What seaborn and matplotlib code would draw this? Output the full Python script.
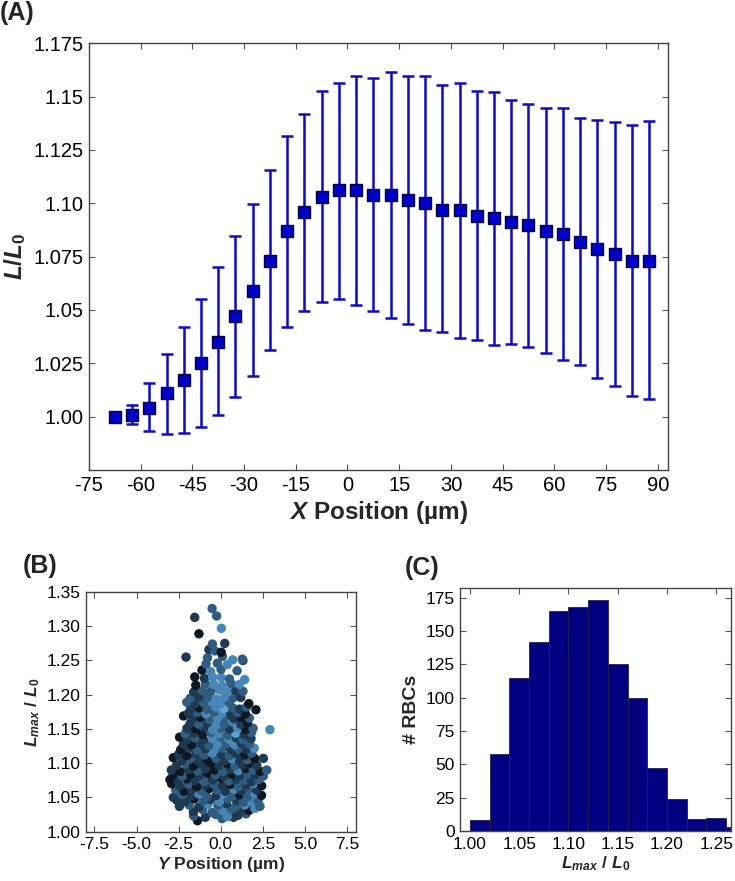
import numpy as np
import pandas as pd
import seaborn as sns
import matplotlib
matplotlib.use('Agg')
import matplotlib.pyplot as plt

# Panel A: mean L/L0 with error bars along the channel
x_pos = [-67.5, -62.5, -57.5, -52.5, -47.5, -42.5, -37.5, -32.5, -27.5, -22.5, -17.5, -12.5, -7.5, -2.5,
         2.5, 7.5, 12.5, 17.5, 22.5, 27.5, 32.5, 37.5, 42.5, 47.5, 52.5, 57.5, 62.5, 67.5, 72.5, 77.5, 82.5, 87.5]
l_mean = [1.000, 1.001, 1.004, 1.011, 1.017, 1.025, 1.035, 1.047, 1.059, 1.073, 1.087, 1.096, 1.103, 1.106,
          1.106, 1.104, 1.104, 1.1015, 1.100, 1.097, 1.097, 1.094, 1.093, 1.091, 1.090, 1.087, 1.0855, 1.082,
          1.0785, 1.076, 1.073, 1.073]
l_upper = [1.000, 1.0053, 1.0158, 1.0295, 1.042, 1.0552, 1.0699, 1.0846, 1.0997, 1.1155, 1.1313, 1.1420, 1.1528,
           1.1563, 1.1597, 1.1589, 1.1617, 1.1597, 1.1594, 1.1556, 1.1564, 1.1527, 1.1519, 1.1483, 1.1466, 1.1444,
           1.1446, 1.1399, 1.1388, 1.1380, 1.1367, 1.1385]
l_lower = [1.000, 0.9964, 0.9933, 0.992, 0.9924, 0.995, 1.0006, 1.0091, 1.0191, 1.0311, 1.0422, 1.0494, 1.0536,
           1.0553, 1.0525, 1.0497, 1.0463, 1.0433, 1.0406, 1.0397, 1.037, 1.0359, 1.0336, 1.0339, 1.0328, 1.0298,
           1.0267, 1.0241, 1.0183, 1.0143, 1.0096, 1.0083]
a_xticks = [-75, -60, -45, -30, -15, 0, 15, 30, 45, 60, 75, 90]
a_yticks = [1.00, 1.025, 1.05, 1.075, 1.10, 1.125, 1.15, 1.175]
a_ylabels = ['1.00', '1.025', '1.05', '1.075', '1.10', '1.125', '1.15', '1.175']

# Panel B: L_max/L0 vs Y position, one dot per cell (shade 0 = darkest)
y_pos = [-1.39, 0.07, 0.75,
         -1.62, -0.92, -0.31, 0.38, 1.02, 1.49,
         -1.63, -1.08, -0.53, 0.12, 0.61, 1.21, 1.66, 2.02,
         -2.46, -1.88, -1.31, -0.77, -0.18, 0.33, 0.87, 1.42, 1.91, 2.32,
         -2.62, -2.12, -1.58, -1.06, -0.61, -0.08, 0.42, 0.93, 1.33, 1.79, 2.21,
         -2.82, -2.31, -1.77, -1.29, -0.83, -0.27, 0.19, 0.71, 1.12, 1.58, 2.03, 2.41,
         -2.68, -2.19, -1.71, -1.18, -0.69, -0.22, 0.27, 0.79, 1.23, 1.68, 2.12,
         -2.92, -2.43, -1.93, -1.42, -0.88, -0.41, 0.08, 0.57, 1.04, 1.51, 1.93, 2.42,
         -3.02, -2.52, -2.03, -1.52, -0.98, -0.49, 0.02, 0.48, 0.92, 1.38, 1.82, 2.23,
         -2.83, -2.29, -1.79, -1.27, -0.78, -0.31, 0.19, 0.68, 1.13, 1.61, 2.04, 2.51,
         -2.94, -2.41, -1.91, -1.38, -0.91, -0.38, 0.11, 0.59, 1.02, 1.48, 1.92, 2.33, 2.72,
         -2.63, -2.09, -1.62, -1.11, -0.58, -0.12, 0.39, 0.83, 1.28, 1.71, 2.13,
         -2.82, -2.28, -1.83, -1.31, -0.82, -0.29, 0.22, 0.68, 1.12, 1.59, 2.01, 2.52,
         -2.51, -2.02, -1.49, -0.98, -0.52, 0.03, 0.51, 0.91, 1.41, 1.83,
         -2.38, -1.89, -1.41, -0.92, -0.38, 0.12, 0.61, 1.03, 1.52, 1.98,
         -2.21, -1.72, -1.19, -0.71, -0.19, 0.29, 0.82, 1.22, 1.69,
         -2.45, -1.98, -1.52, -1.01, -0.49, 0.02, 0.48, 0.93, 1.31, 1.79,
         -2.12, -1.61, -1.09, -0.62, -0.11, 0.41, 0.88, 1.39, 1.82,
         -2.01, -1.49, -0.98, -0.48, 0.03, 0.52, 0.99, 1.48, 1.91, 2.91,
         -1.82, -1.31, -0.79, -0.28, 0.21, 0.72, 1.19, 1.58,
         -2.21, -1.69, -1.21, -0.68, -0.19, 0.31, 0.78, 1.21, 1.69,
         -1.92, -1.41, -0.88, -0.39, 0.09, 0.58, 1.02, 1.45,
         -1.79, -1.28, -0.81, -0.31, 0.18, 0.69, 1.11, 1.52, 2.08,
         -2.02, -1.52, -1.01, -0.52, -0.02, 0.49, 1.66,
         -1.81, -1.29, -0.79, -0.29, 0.22, 0.71, 1.18,
         -1.61, -1.09, -0.59, -0.08, 0.42, 0.89, 1.31,
         -1.49, -0.91, -0.41, 0.09, 0.61, 1.09,
         -1.55, -0.98, -0.49, 0.02, 0.51, 1.41,
         -1.12, -0.61, 0.01, 0.96,
         -0.88, -0.21, 0.38, 1.31,
         -2.07, -0.79, 0.09, 0.70, 1.27,
         -0.71, -0.35, 0.02,
         -0.50, 0.23,
         -1.30, 0.03, -1.55, -0.25, -0.52]
lmax_ratio = [1.016, 1.019, 1.021,
              1.023, 1.021, 1.025, 1.022, 1.024, 1.026,
              1.029, 1.032, 1.028, 1.031, 1.033, 1.030, 1.031, 1.034,
              1.037, 1.039, 1.036, 1.040, 1.038, 1.041, 1.037, 1.039, 1.042, 1.037,
              1.046, 1.044, 1.048, 1.045, 1.047, 1.044, 1.048, 1.046, 1.043, 1.047, 1.045,
              1.050, 1.054, 1.052, 1.055, 1.051, 1.053, 1.056, 1.052, 1.054, 1.051, 1.055, 1.053,
              1.061, 1.059, 1.062, 1.060, 1.063, 1.061, 1.059, 1.062, 1.060, 1.063, 1.061,
              1.070, 1.067, 1.069, 1.066, 1.068, 1.070, 1.067, 1.069, 1.066, 1.068, 1.070, 1.067,
              1.076, 1.074, 1.077, 1.075, 1.073, 1.076, 1.078, 1.074, 1.077, 1.075, 1.073, 1.076,
              1.083, 1.081, 1.084, 1.082, 1.085, 1.083, 1.081, 1.084, 1.082, 1.085, 1.083, 1.081,
              1.090, 1.088, 1.091, 1.089, 1.092, 1.090, 1.088, 1.091, 1.089, 1.092, 1.090, 1.088, 1.090,
              1.097, 1.099, 1.096, 1.098, 1.100, 1.097, 1.099, 1.096, 1.098, 1.100, 1.097,
              1.108, 1.104, 1.106, 1.103, 1.105, 1.107, 1.104, 1.106, 1.103, 1.105, 1.107, 1.107,
              1.113, 1.111, 1.114, 1.112, 1.115, 1.113, 1.111, 1.114, 1.112, 1.115,
              1.120, 1.122, 1.119, 1.121, 1.120, 1.122, 1.119, 1.121, 1.120, 1.122,
              1.128, 1.127, 1.129, 1.126, 1.128, 1.130, 1.127, 1.129, 1.128,
              1.138, 1.135, 1.137, 1.134, 1.136, 1.138, 1.135, 1.137, 1.134, 1.136,
              1.143, 1.144, 1.142, 1.145, 1.143, 1.141, 1.144, 1.142, 1.145,
              1.151, 1.150, 1.152, 1.149, 1.151, 1.150, 1.152, 1.149, 1.151, 1.149,
              1.158, 1.157, 1.159, 1.156, 1.158, 1.160, 1.157, 1.159,
              1.169, 1.165, 1.167, 1.164, 1.166, 1.168, 1.165, 1.167, 1.166,
              1.173, 1.174, 1.172, 1.175, 1.173, 1.171, 1.174, 1.172,
              1.180, 1.181, 1.179, 1.182, 1.180, 1.181, 1.179, 1.182, 1.178,
              1.189, 1.187, 1.188, 1.190, 1.187, 1.189, 1.187,
              1.195, 1.197, 1.196, 1.194, 1.197, 1.195, 1.196,
              1.204, 1.206, 1.205, 1.207, 1.204, 1.206, 1.205,
              1.214, 1.216, 1.215, 1.213, 1.216, 1.215,
              1.226, 1.224, 1.226, 1.225, 1.223, 1.222,
              1.236, 1.234, 1.237, 1.235,
              1.245, 1.246, 1.244, 1.250,
              1.255, 1.254, 1.256, 1.251, 1.252,
              1.266, 1.264, 1.262,
              1.274, 1.275,
              1.289, 1.297, 1.313, 1.315, 1.326]
shade = [0, 2, 1,
         2, 1, 2, 3, 1, 2,
         1, 2, 2, 3, 2, 1, 0, 3,
         1, 2, 1, 3, 2, 1, 2, 3, 3, 2,
         1, 1, 0, 2, 1, 3, 2, 1, 2, 3, 2,
         1, 2, 1, 3, 2, 1, 3, 2, 0, 2, 3, 0,
         2, 0, 1, 2, 0, 2, 1, 3, 1, 2, 1,
         0, 1, 2, 0, 1, 2, 1, 0, 2, 1, 3, 0,
         0, 1, 0, 1, 2, 1, 0, 2, 1, 2, 1, 2,
         0, 2, 0, 1, 0, 2, 1, 0, 1, 2, 1, 2,
         1, 0, 1, 2, 1, 0, 2, 1, 3, 0, 2, 0, 2,
         1, 2, 0, 1, 0, 1, 0, 2, 1, 0, 1,
         0, 1, 2, 1, 0, 2, 1, 3, 1, 2, 0, 1,
         1, 0, 1, 2, 3, 1, 2, 1, 0, 2,
         0, 1, 2, 1, 3, 2, 1, 2, 1, 3,
         1, 0, 1, 2, 3, 2, 3, 1, 2,
         0, 1, 2, 1, 3, 2, 3, 1, 2, 1,
         2, 1, 0, 2, 3, 2, 4, 1, 2,
         1, 0, 1, 3, 2, 1, 3, 0, 2, 3,
         1, 2, 1, 3, 2, 3, 1, 0,
         0, 1, 0, 2, 3, 2, 1, 0, 2,
         1, 2, 3, 2, 3, 1, 2, 0,
         1, 0, 2, 3, 4, 2, 1, 2, 0,
         2, 1, 2, 3, 3, 2, 0,
         2, 1, 2, 3, 3, 2, 1,
         1, 2, 2, 3, 3, 1, 2,
         0, 2, 3, 3, 2, 3,
         0, 1, 3, 3, 2, 3,
         0, 3, 2, 2,
         2, 2, 3, 1,
         1, 2, 2, 3, 2,
         1, 2, 0,
         2, 1,
         0, 3, 1, 2, 2]
shade_colors = {0: '#0d1822', 1: '#1e3a52', 2: '#305c80', 3: '#4886b8', 4: '#5ea6d8'}
b_xticks = [-7.5, -5.0, -2.5, 0.0, 2.5, 5.0, 7.5]
b_yticks = [1.00, 1.05, 1.10, 1.15, 1.20, 1.25, 1.30, 1.35]

# Panel C: histogram of L_max/L0
bin_edges = [1.00, 1.02, 1.04, 1.06, 1.08, 1.10, 1.12, 1.14, 1.16, 1.18, 1.20, 1.22, 1.24, 1.26, 1.28]
bin_counts = [8, 58, 115, 142, 165, 168, 173, 125, 100, 47, 24, 9, 10, 3]
c_xticks = [1.00, 1.05, 1.10, 1.15, 1.20, 1.25]
c_yticks = [0, 25, 50, 75, 100, 125, 150, 175]

assert len(y_pos) == len(lmax_ratio) == len(shade)

sns.set_theme(style='ticks')
plt.rcParams['font.family'] = ['Liberation Sans', 'DejaVu Sans']
plt.rcParams['mathtext.fontset'] = 'custom'
plt.rcParams['mathtext.it'] = 'Liberation Sans:italic:bold'
plt.rcParams['mathtext.rm'] = 'Liberation Sans:bold'
plt.rcParams['mathtext.bf'] = 'Liberation Sans:bold'
plt.rcParams['axes.unicode_minus'] = False


def style_axes(ax, size):
    for s in ax.spines.values():
        s.set_color('#444444')
        s.set_linewidth(1.0)
    ax.tick_params(direction='in', top=True, right=True, length=4, width=0.8,
                   color='#555555', labelsize=size, labelcolor='black', pad=4)


fig = plt.figure(figsize=(7.35, 8.81), dpi=100)

# (A)
ax_a = fig.add_axes([0.121, 0.4665, 0.788, 0.4845])
mean_arr = np.array(l_mean)
yerr = [mean_arr - np.array(l_lower), np.array(l_upper) - mean_arr]
ax_a.errorbar(x_pos, l_mean, yerr=yerr, fmt='none', ecolor='#0b0bc8',
              elinewidth=1.8, capsize=4.5, capthick=1.8, zorder=2)
sns.scatterplot(x=x_pos, y=l_mean, marker='s', s=70, color='#0000c8',
                edgecolor='#00003c', linewidth=1.0, ax=ax_a, zorder=3)
ax_a.set_xlim(-75, 93)
ax_a.set_ylim(0.975, 1.175)
ax_a.set_xticks(a_xticks)
ax_a.set_yticks(a_yticks)
ax_a.set_yticklabels(a_ylabels)
style_axes(ax_a, 14.5)
ax_a.set_xlabel(r'$X$ Position (µm)', fontsize=17.5, fontweight='bold', labelpad=3)
ax_a.set_ylabel(r'$L/L_{\mathit{0}}$', fontsize=17.5, labelpad=4)

# (B)
ax_b = fig.add_axes([0.117, 0.056, 0.367, 0.272])
df_b = pd.DataFrame({'y_pos': y_pos, 'ratio': lmax_ratio, 'shade': shade})
sns.scatterplot(data=df_b, x='y_pos', y='ratio', hue='shade', palette=shade_colors,
                s=46, linewidth=0, alpha=1.0, legend=False, ax=ax_b)
ax_b.set_xlim(-8, 8)
ax_b.set_ylim(1.00, 1.35)
ax_b.set_xticks(b_xticks)
ax_b.set_xticklabels([f'{v:.1f}' for v in b_xticks])
ax_b.set_yticks(b_yticks)
ax_b.set_yticklabels([f'{v:.2f}' for v in b_yticks])
style_axes(ax_b, 12.5)
ax_b.set_xlabel(r'$Y$ Position (µm)', fontsize=12.5, fontweight='bold', labelpad=2)
ax_b.set_ylabel(r'$L_{max}\ /\ L_{\mathit{0}}$', fontsize=12.5, labelpad=3)

# (C)
ax_c = fig.add_axes([0.626, 0.0568, 0.3686, 0.2755])
centers = [(a + b) / 2 for a, b in zip(bin_edges[:-1], bin_edges[1:])]
sns.histplot(x=centers, weights=bin_counts, bins=bin_edges, color='#000080',
             edgecolor='#22224a', linewidth=0.6, alpha=1.0, ax=ax_c)
ax_c.set_xlim(0.99, 1.265)
ax_c.set_ylim(0, 182)
ax_c.set_xticks(c_xticks)
ax_c.set_xticklabels([f'{v:.2f}' for v in c_xticks])
ax_c.set_yticks(c_yticks)
style_axes(ax_c, 12.5)
ax_c.set_xlabel(r'$L_{max}\ /\ L_{\mathit{0}}$', fontsize=12.5, labelpad=2)
ax_c.set_ylabel('# RBCs', fontsize=14, fontweight='bold', labelpad=4)

fig.text(0.0, 1 - 13 / 881, '(A)', fontsize=18, fontweight='bold', ha='left', va='center')
fig.text(23 / 735, 1 - 566 / 881, '(B)', fontsize=18, fontweight='bold', ha='left', va='center')
fig.text(405 / 735, 1 - 568 / 881, '(C)', fontsize=18, fontweight='bold', ha='left', va='center')

fig.savefig('out.png', dpi=100)
